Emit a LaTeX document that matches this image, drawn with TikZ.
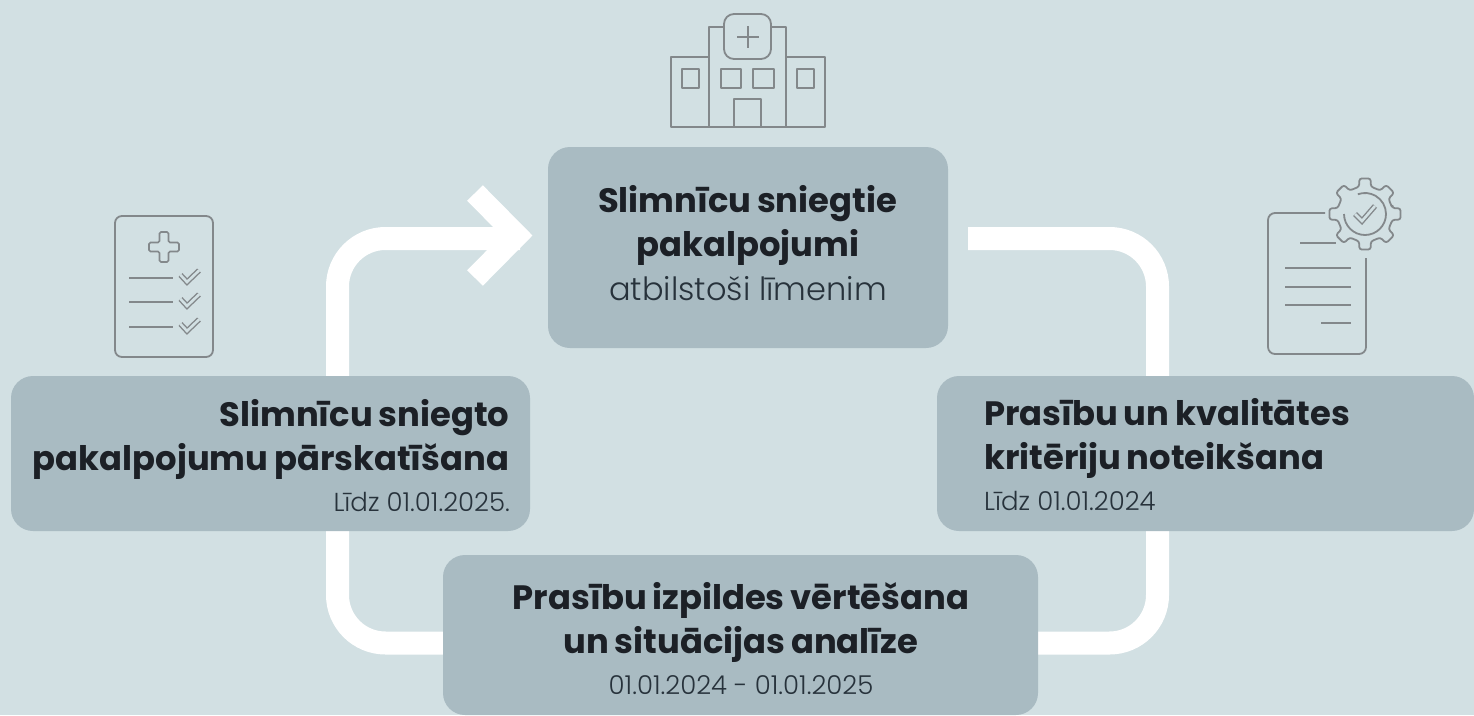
\documentclass[tikz,border=0pt]{standalone}
\usepackage{fontspec}
\setmainfont{Poppins}[WordSpace=0.8]
\newfontfamily\lightf{Poppins Light}
\usetikzlibrary{calc}
\pgfdeclarelayer{behind}
\pgfsetlayers{behind,main}
\definecolor{bgc}{HTML}{D2E0E3}
\definecolor{boxc}{HTML}{A9BBC2}
\definecolor{inkc}{HTML}{1C2026}
\definecolor{subc}{HTML}{27323B}
\definecolor{iconc}{HTML}{83888B}
\tikzset{
  panel/.style={fill=boxc,rounded corners=22pt,inner sep=0pt},
  flow/.style={draw=white,line width=23pt,rounded corners=48pt},
  chev/.style={draw=white,line width=22pt,line join=miter},
  ico/.style={draw=iconc,line width=1.8pt,line join=round},
  icoT/.style={draw=iconc,line width=1.6pt,rounded corners=1.5pt},
  dbl/.style={draw=iconc,line width=1.4pt,double=bgc,double distance=2.6pt,line join=miter},
  head/.style={text=inkc,inner sep=0pt,font=\fontsize{33.8}{40}\selectfont\bfseries},
  sub/.style={text=subc,inner sep=0pt,font=\fontsize{26}{30}\selectfont\lightf},
}
\begin{document}
\begin{tikzpicture}[x=1pt,y=-1pt]
\useasboundingbox (0,0) rectangle (1474,715);
% panels
\node[panel,minimum width=400pt,minimum height=201pt] (care) at (748,247.5) {};
\node[panel,minimum width=519pt,minimum height=155pt] (review) at (270.5,453.5) {};
\node[panel,minimum width=537pt,minimum height=155pt] (reqs) at (1205.5,453.5) {};
\node[panel,minimum width=595pt,minimum height=160pt] (eval) at (740.5,635) {};
\coordinate (flowT) at (520,238.5);
\coordinate (chevA) at (475,193);
\coordinate (chevB) at (475,278);
\coordinate (chevTip) at (517,235.5);
\coordinate (flowR) at (968,238.5);
% connectors
\begin{pgfonlayer}{behind}
\fill[bgc] (0,0) rectangle (1474,715);
\draw[flow] (eval.west |- 0,643) -- (337.5,643) -- (337.5,238.5) -- (flowT);
\draw[chev] (chevA) -- (chevTip) -- (chevB);
\draw[flow] (eval.east |- 0,643) -- (1157.5,643) -- (1157.5,238.5) -- (flowR);
\end{pgfonlayer}
% texts
\node[head,anchor=base] (t1a) at (747.5,212) {Slimnīcu sniegtie};
\node[head,anchor=base] (t1b) at (748,256) {pakalpojumi};
\node[text=subc,inner sep=0pt,font=\fontsize{32}{36}\selectfont\lightf,anchor=base] (t1c) at (748,300) {atbilstoši līmenim};
\node[head,anchor=base east] (t2a) at (509.5,426) {Slimnīcu sniegto};
\node[head,anchor=base east] (t2b) at (509.5,470) {pakalpojumu pārskatīšana};
\node[sub,anchor=base east] (t2c) at (510,511) {Līdz 01.01.2025.};
\node[head,anchor=base west] (t3a) at (984,425) {Prasību un kvalitātes};
\node[head,anchor=base west] (t3b) at (984,469) {kritēriju noteikšana};
\node[sub,anchor=base west] (t3c) at (984,510) {Līdz 01.01.2024};
\node[head,anchor=base] (t4a) at (741,609) {Prasību izpildes vērtēšana};
\node[head,anchor=base] (t4b) at (741,653) {un situācijas analīze};
\node[sub,anchor=base] (t4c) at (741,694) {01.01.2024 - 01.01.2025};
% hospital icon
\draw[ico] (724,27) -- (709,27) -- (709,127);
\draw[ico] (771,27) -- (786,27) -- (786,127);
\draw[ico] (709,57) -- (671,57) -- (671,127) -- (825,127) -- (825,57) -- (786,57);
\draw[ico,rounded corners=10pt] (724,14) rectangle (771,59);
\draw[ico] (737,37) -- (759,37) (748,26) -- (748,48);
\draw[ico] (682,69) rectangle (699,88) (721,69) rectangle (741,88) (753,69) rectangle (774,88) (797,69) rectangle (814,88);
\draw[ico] (734,127) -- (734,99) -- (761,99) -- (761,127);
% checklist icon
\draw[ico,rounded corners=7pt] (115,216) rectangle (213,357);
\draw[icoT] (159.5,232) -- (168.5,232) -- (168.5,242.5) -- (179,242.5) -- (179,251.5) -- (168.5,251.5) -- (168.5,262) -- (159.5,262) -- (159.5,251.5) -- (149,251.5) -- (149,242.5) -- (159.5,242.5) -- cycle;
\draw[ico] (129,278) -- (173,278) (129,302) -- (173,302) (129,327) -- (173,327);
\foreach \yy in {0,24,49}{
  \draw[dbl,shift={(0,\yy)}] (180.5,275) -- (187,282) -- (199,270.5);
}
% document + gear icon
\draw[ico,rounded corners=7pt] (1325,213) -- (1268,213) -- (1268,354) -- (1366,354) -- (1366,258);
\draw[ico] (1300,243) -- (1336,243) (1285,268) -- (1351,268) (1285,287) -- (1351,287) (1285,305) -- (1351,305) (1321,323) -- (1351,323);
\begin{scope}[shift={(1365,214)}]
\draw[ico,rounded corners=2.5pt] (-12:28)
  \foreach \a in {0,45,...,315}{ -- (\a-12:28) -- (\a-9:36) -- (\a+9:36) -- (\a+12:28) } -- cycle;
\draw[ico] (180:21) arc[start angle=180,end angle=-110,radius=21];
\draw[dbl] (-10,0) -- (-3,7) -- (10,-8);
\end{scope}
\end{tikzpicture}
\end{document}
